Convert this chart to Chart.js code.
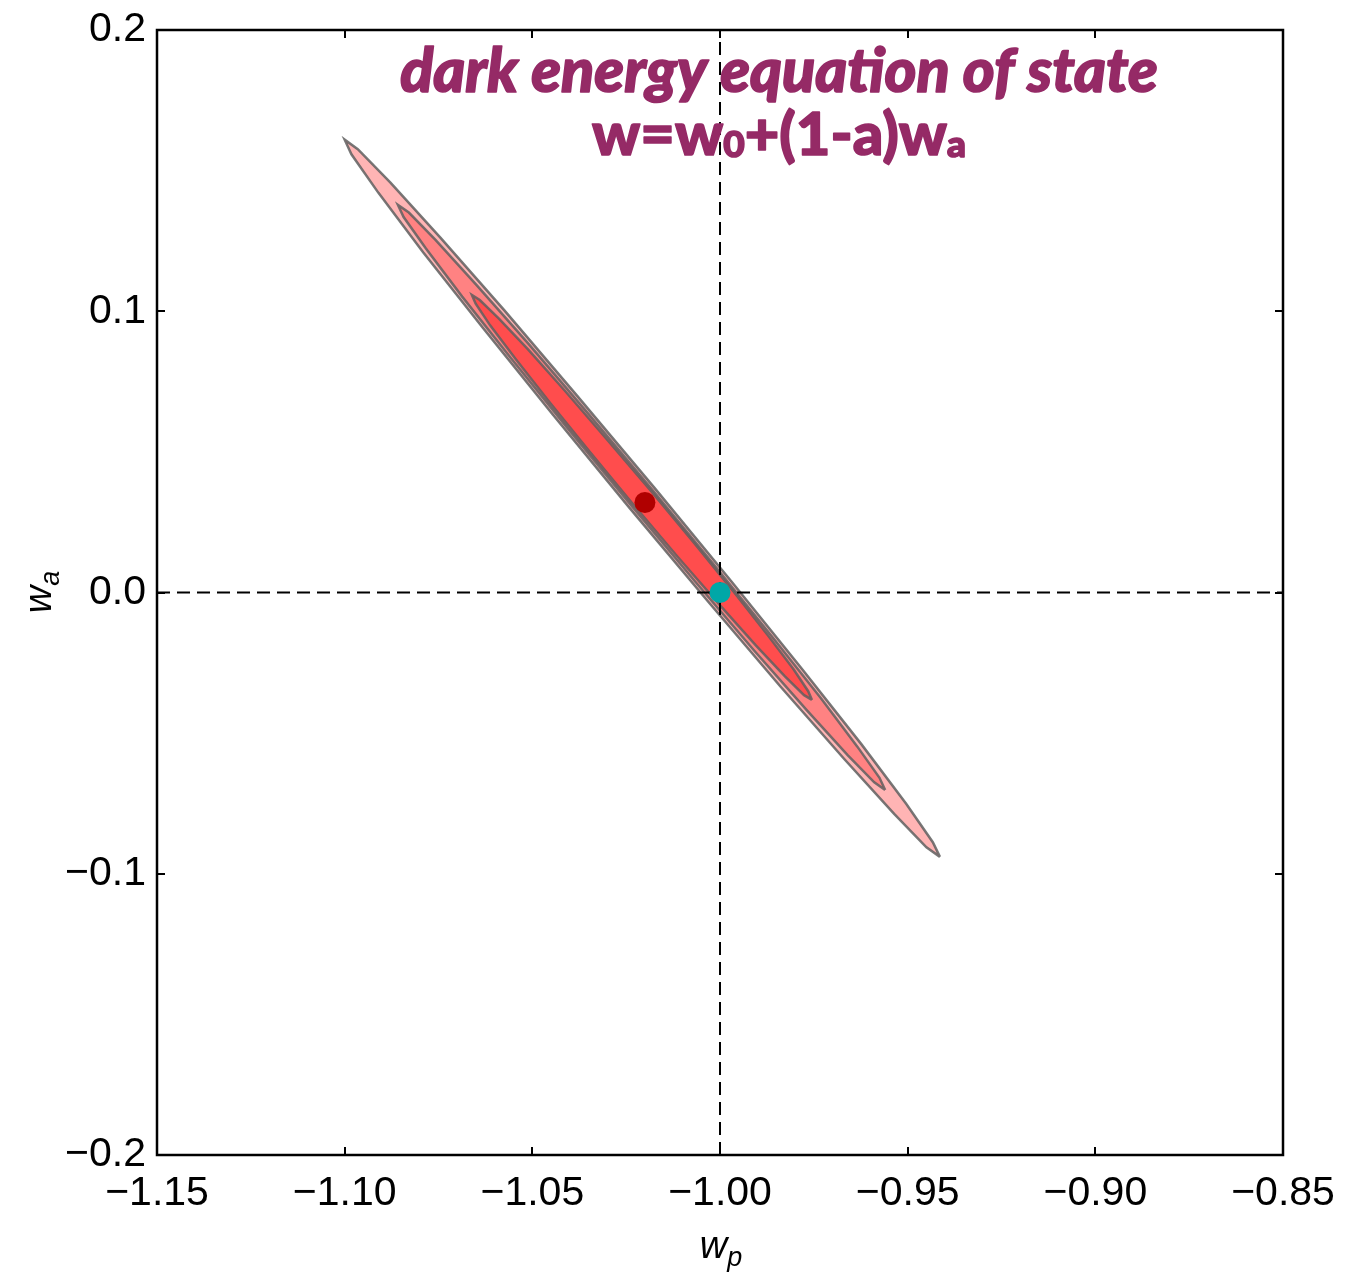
<!DOCTYPE html>
<html><head><meta charset="utf-8">
<script src="https://cdn.jsdelivr.net/npm/chart.js@4.4.1/dist/chart.umd.min.js"></script>
<style>html,body{margin:0;padding:0;background:#fff;overflow:hidden}#wrap{width:1347px;height:1275px;position:relative}</style>
</head><body><div id="wrap"><canvas id="c"></canvas></div>
<script>
// ---- data ----
const xTickValues = [-1.15, -1.10, -1.05, -1.00, -0.95, -0.90, -0.85];
const xTickLabels = ['\u22121.15', '\u22121.10', '\u22121.05', '\u22121.00', '\u22120.95', '\u22120.90', '\u22120.85'];
const yTickValues = [-0.2, -0.1, 0.0, 0.1, 0.2];
const yTickLabels = ['\u22120.2', '\u22120.1', '0.0', '0.1', '0.2'];

// outer contour (light pink), points [w_p, w_a]
const outerContour = [
  [-0.9414,-0.0940],[-0.9433,-0.0888],[-0.9504,-0.0751],[-0.9623,-0.0540],[-0.9782,-0.0271],[-0.9970,0.0040],
  [-1.0174,0.0371],[-1.0381,0.0700],[-1.0575,0.1004],[-1.0745,0.1262],[-1.0878,0.1457],[-1.0965,0.1576],
  [-1.1000,0.1610],[-1.0982,0.1558],[-1.0910,0.1421],[-1.0791,0.1210],[-1.0632,0.0941],[-1.0444,0.0630],
  [-1.0240,0.0299],[-1.0033,-0.0030],[-0.9839,-0.0334],[-0.9669,-0.0592],[-0.9536,-0.0787],[-0.9450,-0.0906],
  [-0.9414,-0.0940]
];
// middle contour (medium red)
const middleContour = [
  [-0.9560,-0.0702],[-0.9575,-0.0659],[-0.9634,-0.0548],[-0.9731,-0.0376],[-0.9861,-0.0157],[-1.0015,0.0097],
  [-1.0182,0.0368],[-1.0351,0.0636],[-1.0510,0.0884],[-1.0649,0.1094],[-1.0758,0.1254],[-1.0829,0.1351],
  [-1.0858,0.1378],[-1.0843,0.1335],[-1.0784,0.1224],[-1.0687,0.1052],[-1.0557,0.0833],[-1.0403,0.0579],
  [-1.0236,0.0309],[-1.0067,0.0040],[-0.9908,-0.0208],[-0.9769,-0.0418],[-0.9660,-0.0578],[-0.9589,-0.0675],
  [-0.9560,-0.0702]
];
// inner contour (bright red)
const innerContour = [
  [-0.9755,-0.0382],[-0.9765,-0.0351],[-0.9804,-0.0273],[-0.9872,-0.0153],[-0.9962,0.0000],[-1.0069,0.0176],
  [-1.0185,0.0363],[-1.0304,0.0549],[-1.0415,0.0720],[-1.0512,0.0865],[-1.0589,0.0974],[-1.0640,0.1040],
  [-1.0661,0.1058],[-1.0651,0.1027],[-1.0612,0.0949],[-1.0544,0.0829],[-1.0454,0.0676],[-1.0347,0.0500],
  [-1.0231,0.0313],[-1.0113,0.0127],[-1.0001,-0.0044],[-0.9904,-0.0189],[-0.9827,-0.0298],[-0.9776,-0.0365],
  [-0.9755,-0.0382]
];
const bestFit = [-1.020, 0.032];
const fiducial = [-1.000, 0.000];
const refVertical = [[-1.0, -0.2], [-1.0, 0.2]];
const refHorizontal = [[-1.15, 0.0], [-0.85, 0.0]];

const titleLine1 = 'dark energy equation of state';
const titleLine2 = [['w=w', false], ['0', true], ['+(1-a)w', false], ['a', true]];

const toPts = arr => arr.map(p => ({x: p[0], y: p[1]}));

const frameTicks = {
  id: 'frameTicks',
  afterDraw(chart) {
    const ctx = chart.ctx, a = chart.chartArea;
    const xs = chart.scales.x, ys = chart.scales.y;
    ctx.save();
    ctx.strokeStyle = '#000';
    ctx.lineWidth = 2;
    const L = 8;
    ctx.beginPath();
    xTickValues.forEach(v => {
      const px = Math.round(xs.getPixelForValue(v));
      ctx.moveTo(px, a.bottom); ctx.lineTo(px, a.bottom - L);
      ctx.moveTo(px, a.top); ctx.lineTo(px, a.top + L);
    });
    yTickValues.forEach(v => {
      const py = Math.round(ys.getPixelForValue(v));
      ctx.moveTo(a.left, py); ctx.lineTo(a.left + L, py);
      ctx.moveTo(a.right, py); ctx.lineTo(a.right - L, py);
    });
    ctx.stroke();
    ctx.lineWidth = 2.5;
    ctx.strokeRect(a.left, a.top, a.right - a.left, a.bottom - a.top);

    // title
    const purple = '#952a66';
    ctx.fillStyle = purple;
    ctx.strokeStyle = purple;
    ctx.lineWidth = 1.6;
    ctx.lineJoin = 'round';
    ctx.textBaseline = 'alphabetic';
    let base = 50;
    const f1 = s => 'italic 900 ' + s + 'px Lato, "Open Sans", sans-serif';
    ctx.font = f1(base);
    let w1 = ctx.measureText(titleLine1).width;
    let s1 = base * 758 / w1;
    ctx.font = f1(s1);
    ctx.textAlign = 'center';
    ctx.fillText(titleLine1, 779, 92);
    ctx.strokeText(titleLine1, 779, 92);

    // second line with subscripts
    const mainF = s => '900 ' + s + 'px Lato, "Open Sans", sans-serif';
    const subF = s => '900 ' + (s * 0.62) + 'px Lato, "Open Sans", sans-serif';
    const measure = s => titleLine2.reduce((acc, seg) => {
      ctx.font = seg[1] ? subF(s) : mainF(s);
      return acc + ctx.measureText(seg[0]).width;
    }, 0);
    let s2 = 56 * 374 / measure(56);
    let total = measure(s2);
    let x = 779 - total / 2;
    ctx.textAlign = 'left';
    titleLine2.forEach(seg => {
      ctx.font = seg[1] ? subF(s2) : mainF(s2);
      const yy = seg[1] ? 157 : 155;
      ctx.fillText(seg[0], x, yy);
      ctx.strokeText(seg[0], x, yy);
      x += ctx.measureText(seg[0]).width;
    });

    // axis titles
    ctx.fillStyle = '#000';
    const drawSub = (main, sub, cx, cy, rot) => {
      ctx.save();
      ctx.translate(cx, cy);
      if (rot) ctx.rotate(-Math.PI / 2);
      const mf = 'italic 38px "Liberation Sans", Arial, sans-serif';
      const sf = 'italic 27px "Liberation Sans", Arial, sans-serif';
      ctx.font = mf;
      const wm = ctx.measureText(main).width;
      ctx.font = sf;
      const ws = ctx.measureText(sub).width;
      const st = -(wm + ws) / 2;
      ctx.textAlign = 'left';
      ctx.font = mf;
      ctx.fillText(main, st, 0);
      ctx.font = sf;
      ctx.fillText(sub, st + wm, 8);
      ctx.restore();
    };
    drawSub('w', 'p', 721, 1258, false);
    drawSub('w', 'a', 51, 592, true);
    ctx.restore();
  }
};

const contourStyle = (fillColor, ord) => ({
  showLine: true, fill: 'shape', backgroundColor: fillColor,
  borderColor: 'rgba(95,95,95,0.85)', borderWidth: 2.5, pointRadius: 0, tension: 0, order: ord
});

const noPad = s => { s.paddingTop = 0; s.paddingBottom = 0; s.paddingLeft = 0; s.paddingRight = 0; };

new Chart(document.getElementById('c'), {
  type: 'scatter',
  data: {
    datasets: [
      {data: [{x: bestFit[0], y: bestFit[1]}], pointRadius: 10.5, pointBackgroundColor: '#b00000', pointBorderWidth: 0, order: 0},
      {data: [{x: fiducial[0], y: fiducial[1]}], pointRadius: 10.5, pointBackgroundColor: '#00a7a7', pointBorderWidth: 0, order: 0},
      {data: toPts(refVertical), showLine: true, borderColor: '#000', borderWidth: 2, borderDash: [13, 7], pointRadius: 0, fill: false, order: 1},
      {data: toPts(refHorizontal), showLine: true, borderColor: '#000', borderWidth: 2, borderDash: [13, 7], pointRadius: 0, fill: false, order: 1},
      Object.assign({data: toPts(innerContour)}, contourStyle('#ff4d4d', 2)),
      Object.assign({data: toPts(middleContour)}, contourStyle('#ff8282', 3)),
      Object.assign({data: toPts(outerContour)}, contourStyle('#ffb4b4', 4))
    ]
  },
  options: {
    responsive: true, maintainAspectRatio: false, animation: false,
    layout: {padding: {left: 0, top: 30, right: 64, bottom: 0}},
    plugins: {legend: {display: false}, tooltip: {enabled: false}},
    scales: {
      x: {
        type: 'linear', min: -1.15, max: -0.85,
        grid: {display: false, drawTicks: false}, border: {display: false},
        afterBuildTicks: s => { s.ticks = xTickValues.map(v => ({value: v})); },
        afterFit: s => { s.height = 120; noPad(s); },
        ticks: {color: '#000', padding: 14, maxRotation: 0, autoSkip: false,
          font: {family: '"Liberation Sans", Arial, sans-serif', size: 41},
          callback: (v, i) => xTickLabels[i]}
      },
      y: {
        type: 'linear', min: -0.2, max: 0.2,
        grid: {display: false, drawTicks: false}, border: {display: false},
        afterBuildTicks: s => { s.ticks = yTickValues.map(v => ({value: v})); },
        afterFit: s => { s.width = 157; noPad(s); },
        ticks: {color: '#000', padding: 11, autoSkip: false,
          font: {family: '"Liberation Sans", Arial, sans-serif', size: 41},
          callback: (v, i) => yTickLabels[i]}
      }
    }
  },
  plugins: [frameTicks]
});
</script></body></html>
